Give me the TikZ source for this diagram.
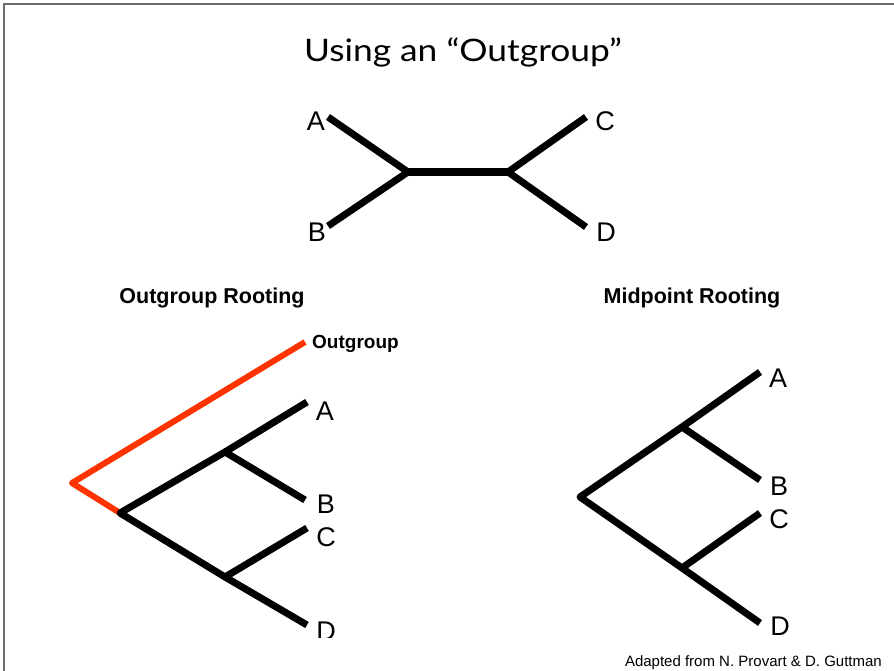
\documentclass[tikz,border=0pt]{standalone}
\usepackage{fontspec}
\setmainfont{Liberation Sans}
\newfontfamily\titlefont[FakeStretch=1.14]{Lato}
\usetikzlibrary{positioning}
\definecolor{ogred}{RGB}{255,51,0}
\definecolor{framegray}{RGB}{110,110,110}
\begin{document}
\begin{tikzpicture}[x=1pt,y=-1pt]
\tikzstyle{br}=[line width=7pt,line join=round]
\tikzstyle{og}=[line width=6pt,draw=ogred,line join=round]
\tikzstyle{leaf}=[anchor=base,inner sep=0pt,font=\fontsize{27}{32}\selectfont]
\tikzstyle{head}=[anchor=base,inner sep=0pt,font=\fontsize{21.5}{26}\selectfont\bfseries]
\useasboundingbox (0,0) rectangle (894,671);
\draw[framegray,line width=1.5pt] (894,4) -- (4,4) -- (4,671);
\node[anchor=base,inner sep=0pt,font=\fontsize{31}{37}\selectfont\titlefont] (title) at (463,62) {Using an “Outgroup”};
% unrooted tree
\coordinate (uA) at (328,117);
\coordinate (uB) at (328,226);
\coordinate (uC) at (586,117);
\coordinate (uD) at (586,227);
\coordinate (uL) at (408,172);
\coordinate (uR) at (508,172);
\draw[br] (uA) -- (uL) -- (uB);
\draw[br] (uC) -- (uR) -- (uD);
\draw[line width=8pt] (uL) -- (uR);
\node[leaf] (lA) at (316,131) {A};
\node[leaf] (lB) at (317,241) {B};
\node[leaf] (lC) at (605,131) {C};
\node[leaf] (lD) at (606,241) {D};
% outgroup rooting
\node[head] (hout) at (212,303) {Outgroup Rooting};
\coordinate (oroot) at (72,483);
\coordinate (oOG) at (305,342);
\coordinate (o1) at (120,513);
\coordinate (o2) at (225,452);
\coordinate (o3) at (225,577);
\coordinate (oA) at (307,402);
\coordinate (oB) at (305,500);
\coordinate (oC) at (307,528);
\coordinate (oD) at (307,625);
\draw[og] (oOG) -- (oroot) -- (o1);
\draw[br] (oA) -- (o2) -- (oB);
\draw[br] (o2) -- (o1) -- (o3);
\draw[br] (oC) -- (o3) -- (oD);
\node[anchor=base west,inner sep=0pt,font=\fontsize{19}{23}\selectfont\bfseries] (lOG) at (312,348) {Outgroup};
\node[leaf] (oLA) at (325,420) {A};
\node[leaf] (oLB) at (326,513) {B};
\node[leaf] (oLC) at (326,546) {C};
\begin{scope}
\clip (300,600) rectangle (360,637);
\node[leaf] (oLD) at (326,640) {D};
\end{scope}
% midpoint rooting
\node[head] (hmid) at (692,303) {Midpoint Rooting};
\coordinate (mroot) at (580,497);
\coordinate (m1) at (682,427);
\coordinate (m2) at (682,568);
\coordinate (mA) at (760,372);
\coordinate (mB) at (760,480);
\coordinate (mC) at (760,513);
\coordinate (mD) at (760,623);
\draw[br] (mA) -- (m1) -- (mroot) -- (m2) -- (mD);
\draw[br] (m1) -- (mB);
\draw[br] (m2) -- (mC);
\node[leaf] (mLA) at (778,387) {A};
\node[leaf] (mLB) at (779,495) {B};
\node[leaf] (mLC) at (779,528) {C};
\node[leaf] (mLD) at (780,635) {D};
\node[anchor=base east,inner sep=0pt,font=\fontsize{15}{18}\selectfont] (credit) at (882,666) {Adapted from N. Provart \& D. Guttman};
\end{tikzpicture}
\end{document}
